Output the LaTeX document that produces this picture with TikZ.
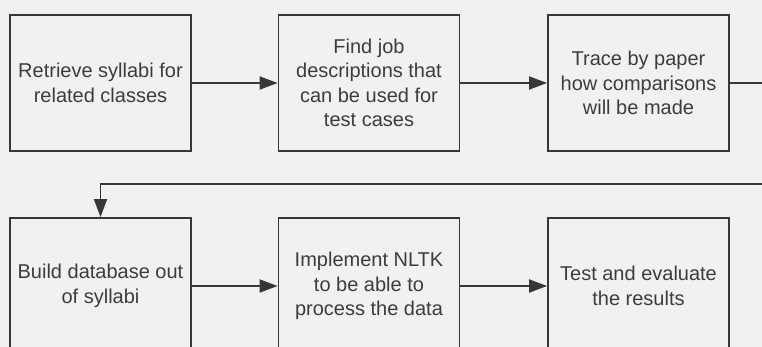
\documentclass[tikz,border=0pt]{standalone}
\usepackage{fontspec}
\setmainfont{Liberation Sans}
\usetikzlibrary{arrows.meta}
\definecolor{bgc}{RGB}{240,242,240}
\definecolor{linec}{RGB}{55,55,55}
\definecolor{txtc}{RGB}{60,60,60}
\begin{document}
\begin{tikzpicture}[x=1pt,y=-1pt,
  stepbox/.style={draw=linec,line width=1.8pt,fill=bgc,minimum width=181pt,minimum height=136pt,
    align=center,text=txtc,font=\fontsize{20}{24.5}\selectfont,inner sep=2pt},
  conn/.style={draw=linec,line width=1.8pt,-{Triangle[length=18pt,width=13pt]}}]
\useasboundingbox (0,0) rectangle (762,347);
\fill[bgc] (0,0) rectangle (762,347);
\clip (0,0) rectangle (762,347);
\node[stepbox] (b1) at (100.5,83) {Retrieve syllabi for\\related classes};
\node[stepbox] (b2) at (369,83) {Find job\\descriptions that\\can be used for\\test cases};
\node[stepbox] (b3) at (638.5,83) {Trace by paper\\how comparisons\\will be made};
\node[stepbox] (b4) at (100.5,286) {Build database out\\of syllabi};
\node[stepbox] (b5) at (369,286) {Implement NLTK\\to be able to\\process the data};
\node[stepbox] (b6) at (638.5,286) {Test and evaluate\\the results};
\coordinate (r1) at (780,83);
\coordinate (r2) at (780,184);
\draw[conn] (b1) -- (b2);
\draw[conn] (b2) -- (b3);
\draw[conn] (b3.east) -- (r1) -- (r2) -| (b4.north);
\draw[conn] (b4) -- (b5);
\draw[conn] (b5) -- (b6);
\end{tikzpicture}
\end{document}
